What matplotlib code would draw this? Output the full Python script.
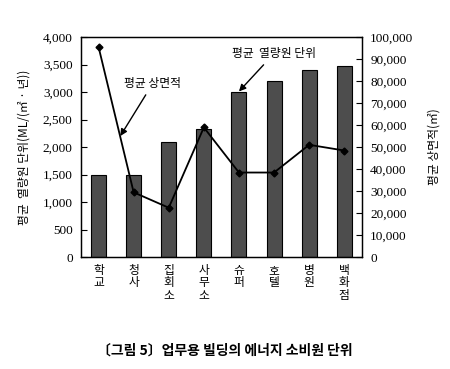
import matplotlib
matplotlib.use("Agg")
import matplotlib.pyplot as plt
from matplotlib.ticker import FuncFormatter

plt.rcParams['font.family'] = ['Noto Sans CJK KR', 'DejaVu Sans']

categories = ['학교', '청사', '집회소', '사무소', '슈퍼', '호텔', '병원', '백화점']
heat_unit = [1500, 1500, 2100, 2330, 3000, 3200, 3400, 3480]      # 평균 열량원 단위
floor_area = [95500, 29400, 22400, 58900, 38400, 38400, 51000, 48400]  # 평균 상면적

fig = plt.figure(figsize=(4.5, 3.69), dpi=100)
ax = fig.add_axes([0.18, 0.3035, 0.624, 0.5962])
x = list(range(len(categories)))

ax.bar(x, heat_unit, width=0.43, color='#4d4d4d', edgecolor='black', linewidth=0.8, zorder=2)
ax.set_xlim(-0.5, 7.5)
ax.set_ylim(0, 4000)
ax.set_yticks(range(0, 4001, 500))
ax.yaxis.set_major_formatter(FuncFormatter(lambda v, p: f'{int(v):,}'))
ax.tick_params(axis='y', direction='in', length=4, labelsize=9.5, pad=6)
for lab in ax.get_yticklabels():
    lab.set_fontfamily('Liberation Serif')
ax.set_xticks(x)
ax.set_xticklabels(['\n'.join(c) for c in categories], fontsize=8.5, linespacing=0.95,
                   va='top')
ax.tick_params(axis='x', length=0, pad=5)
ax.set_ylabel('평균  열량원 단위(ML/(㎡ · 년))', fontsize=8.5, labelpad=9)

ax2 = ax.twinx()
ax2.plot(x, floor_area, color='black', linewidth=1.3, marker='D', markersize=3.5, zorder=3)
ax2.set_ylim(0, 100000)
ax2.set_yticks(range(0, 100001, 10000))
ax2.yaxis.set_major_formatter(FuncFormatter(lambda v, p: f'{int(v):,}'))
ax2.tick_params(axis='y', direction='in', length=4, labelsize=9.5, pad=6)
for lab in ax2.get_yticklabels():
    lab.set_fontfamily('Liberation Serif')
ax2.set_ylabel('평균 상면적(㎡)', fontsize=8.5, labelpad=10)

for a in (ax, ax2):
    for s in a.spines.values():
        s.set_linewidth(0.9)

ax2.annotate('평균 상면적', xy=(0.62, 55000), xytext=(1.55, 79000),
             fontsize=8.5, ha='center', va='center',
             arrowprops=dict(arrowstyle='-|>', color='black', lw=1.0,
                             mutation_scale=10, shrinkB=0))
ax.annotate('평균  열량원 단위', xy=(4.0, 3010), xytext=(5.0, 3700),
            fontsize=8.5, ha='center', va='center',
            arrowprops=dict(arrowstyle='-|>', color='black', lw=1.0,
                            mutation_scale=10, shrinkB=0))

fig.text(0.5, 0.05, '〔그림 5〕업무용 빌딩의 에너지 소비원 단위', ha='center', va='center',
         fontsize=10, fontweight='bold')

fig.savefig('out.png', dpi=100)
